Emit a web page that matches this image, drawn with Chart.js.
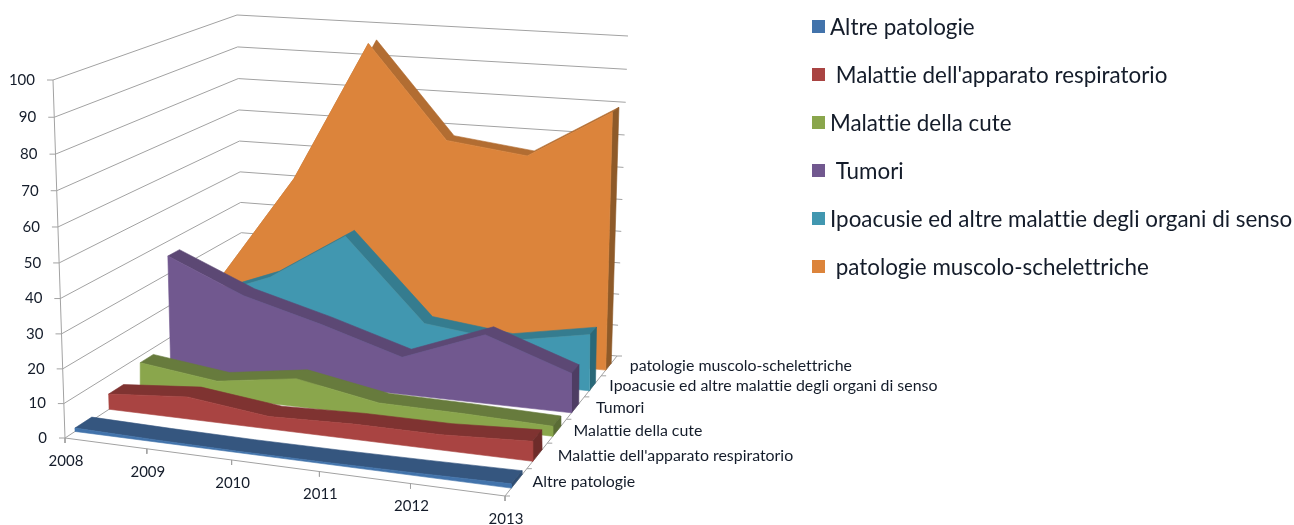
<!DOCTYPE html>
<html><head><meta charset="utf-8">
<style>html,body{margin:0;padding:0;background:#fff}canvas{display:block}</style>
<script src="https://cdn.jsdelivr.net/npm/chart.js@4"></script>
</head><body><canvas id="c" width="1294" height="525"></canvas>
<script>
const years = ['2008','2009','2010','2011','2012','2013'];
const seriesNames = ['Altre patologie'," Malattie dell'apparato respiratorio",'Malattie della cute',' Tumori','Ipoacusie ed altre malattie degli organi di senso',' patologie muscolo-schelettriche'];
const valueTicks = [0,10,20,30,40,50,60,70,80,90,100];
const altrePatologie = [1,0.6,0.4,0.5,0.8,1.2];
const apparatoRespiratorio = [4.6,6.6,3.7,4.5,4.5,5.8];
const malattieCute = [8,5,8.5,4,3.7,3];
const tumori = [35.5,25.5,19,11.5,21,12];
const ipoacusie = [17,26,41,16,13,17.5];
const muscoloScheletriche = [20,52.5,96,68,65,80];
const allValues = [altrePatologie,apparatoRespiratorio,malattieCute,tumori,ipoacusie,muscoloScheletriche];
const frontColors = ['#4273ab','#a94442','#8aa64c','#71588f','#4197b0','#dc843b'];
const topColors   = ['#35567f','#7f3331','#677b3d','#5c4874','#357c8f','#b26d32'];
const capColors   = ['#2f4d72','#6e2c2a','#5a6c35','#4e3d63','#2a6878','#8e5a29'];

// perspective box: corners [front-left, front-right, back-right, back-left]
const floorQuad = [[65,438],[505,496],[617,356],[243,322]];
const ceilQuad  = [[53,80],[491,123],[628,36],[237,15]];
const persp=(x,k)=>x*(1+k)/(1+x*k);
function bil(q,s,r){
  const f=i=>(q[0][i]*(1-s)+q[1][i]*s)*(1-r)+(q[3][i]*(1-s)+q[2][i]*s)*r;
  return [f(0),f(1)];
}
function P(yearIdx,depth,val){
  const s=persp(yearIdx/(years.length-1),-0.086), r=persp(depth,0.2124), t=persp(val/100,-0.043);
  const a=bil(floorQuad,s,r), b=bil(ceilQuad,s,r);
  return {x:a[0]+(b[0]-a[0])*t, y:a[1]+(b[1]-a[1])*t};
}
const GRID='#a2a2a2', n=seriesNames.length, last=years.length-1;
function lineDs(pts){return {data:pts,showLine:true,fill:false,borderColor:GRID,borderWidth:1,pointRadius:0};}
function polyDs(pts,col){return {data:[...pts,pts[0]],showLine:true,fill:'shape',backgroundColor:col,borderColor:col,borderWidth:0.6,pointRadius:0,tension:0};}
const layers=[];
valueTicks.forEach(t=>{ layers.push(lineDs([P(0,0,t),P(0,1,t),P(last,1,t)])); });
layers.push(lineDs([P(0,0,0),P(0,0,100)]));
layers.push(lineDs([P(0,0,0),P(last,0,0),P(last,1,0)]));
const shift=(p,dx,dy)=>({x:p.x+dx,y:p.y+dy});
valueTicks.forEach(t=>{const p=P(0,0,t);layers.push(lineDs([p,shift(p,-6,0)]));});
years.forEach((y,k)=>{const p=P(k,0,0);layers.push(lineDs([p,shift(p,0,5)]));});
for(let i=0;i<=n;i++){const p=P(last,i/n,0);layers.push(lineDs([p,shift(p,5,0)]));}
for(let i=n-1;i>=0;i--){
  const vals=allValues[i], v0=i/n+0.047, v1=v0+0.081-0.0046*i;
  const fr=vals.map((x,k)=>P(k,v0,x)), bk=vals.map((x,k)=>P(k,v1,x));
  layers.push(polyDs([...fr,...bk.slice().reverse()],topColors[i]));
  layers.push(polyDs([P(last,v0,vals[last]),P(last,v1,vals[last]),P(last,v1,0),P(last,v0,0)],capColors[i]));
  layers.push(polyDs([...fr,P(last,v0,0),P(0,v0,0)],frontColors[i]));
}
const TXT='#141c2a', FONT='Lato, "Open Sans", sans-serif';
const labelsPlugin={id:'labels3d',afterDraw(chart){
  const c=chart.ctx; c.save(); c.fillStyle=TXT; c.textBaseline='middle';
  c.fontVariantLigatures='none'; c.textRendering='optimizeSpeed';
  c.font='15px '+FONT; c.textAlign='right';
  valueTicks.forEach(t=>{const p=P(0,0,t);c.fillText(String(t),p.x-18,p.y);});
  c.textAlign='center';
  years.forEach((y,k)=>{const p=P(k,0,0);c.fillText(y,p.x+1,p.y+23);});
  c.textAlign='left'; c.font='15.9px '+FONT;
  seriesNames.forEach((s,i)=>{const p=P(last,(i+0.5)/n,0);c.fillText(s,p.x+16.5,p.y);});
  c.font='22.4px '+FONT;
  seriesNames.forEach((s,i)=>{const y=27+48*i;
    c.fillStyle=frontColors[i]; c.fillRect(812,y-7,13,13);
    c.fillStyle=TXT; c.fillText(s,830,y+1);});
  c.restore();
}};
new Chart(document.getElementById('c'),{
  type:'scatter',
  data:{datasets:layers.slice().reverse()},
  options:{responsive:false,animation:false,layout:{padding:0},
    scales:{x:{type:'linear',display:false,min:0,max:1294},y:{type:'linear',display:false,min:0,max:525,reverse:true}},
    plugins:{legend:{display:false},tooltip:{enabled:false}}},
  plugins:[labelsPlugin]
});
</script></body></html>
